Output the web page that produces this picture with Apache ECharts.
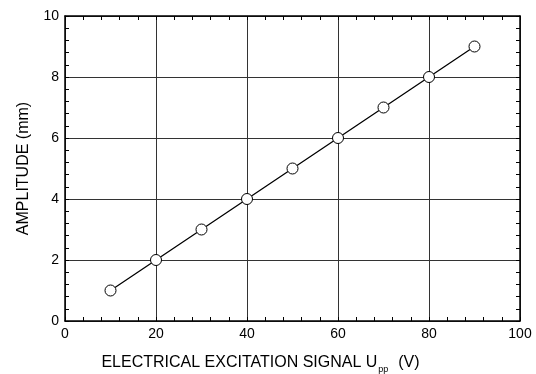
<!DOCTYPE html>
<html>
<head>
<meta charset="utf-8">
<script src="https://cdn.jsdelivr.net/npm/echarts@6/dist/echarts.min.js"></script>
<style>
html, body { margin: 0; padding: 0; background: #fff; }
#chart { width: 536px; height: 374px; }
</style>
</head>
<body>
<div id="chart"></div>
<script>
// data
var signalVolts = [10, 20, 30, 40, 50, 60, 70, 80, 90];
var amplitudeMm = [1, 2, 3, 4, 5, 6, 7, 8, 9];

var fontName = 'Liberation Sans, Arial, sans-serif';

var points = [];
for (var i = 0; i < signalVolts.length; i++) {
    points.push([signalVolts[i], amplitudeMm[i]]);
}

var myChart = echarts.init(document.getElementById('chart'));

// shared bits for the frame axes
var lineStyle = {color: '#000', width: 1.5};
var gridStyle = {color: '#333', width: 1};

var option = {
    animation: false,
    backgroundColor: '#fff',
    grid: {
        left: 65,
        right: 16,
        top: 16,
        bottom: 53,
        outerBoundsMode: 'none'
    },
    xAxis: [
        {
            type: 'value',
            min: 0,
            max: 100,
            interval: 20,
            name: 'ELECTRICAL EXCITATION SIGNAL U{sub|pp}  (V)',
            nameLocation: 'middle',
            nameGap: 30,
            nameTextStyle: {
                color: '#000',
                fontFamily: fontName,
                fontSize: 16,
                padding: [0, 64, 0, 0], // title sits a bit left of centre
                rich: {
                    sub: {fontSize: 9, fontFamily: fontName, color: '#000', padding: [14, 1, 0, 1]}
                }
            },
            axisLine: {show: true, onZero: false, lineStyle: lineStyle},
            axisTick: {show: true, inside: true, length: 4, lineStyle: {color: '#000'}},
            minorTick: {show: true, splitNumber: 5, length: 4, lineStyle: {color: '#000'}},
            axisLabel: {color: '#000', fontFamily: fontName, fontSize: 14, margin: 6},
            splitLine: {show: true, lineStyle: gridStyle}
        },
        {
            type: 'value',
            position: 'top',
            min: 0,
            max: 100,
            interval: 20,
            axisLine: {show: true, onZero: false, lineStyle: lineStyle},
            axisTick: {show: true, inside: true, length: 4, lineStyle: {color: '#000'}},
            minorTick: {show: true, splitNumber: 5, length: 4, lineStyle: {color: '#000'}},
            axisLabel: {show: false},
            splitLine: {show: false}
        }
    ],
    yAxis: [
        {
            type: 'value',
            min: 0,
            max: 10,
            interval: 2,
            name: 'AMPLITUDE (mm)',
            nameLocation: 'middle',
            nameGap: 33,
            nameTextStyle: {color: '#000', fontFamily: fontName, fontSize: 16},
            axisLine: {show: true, onZero: false, lineStyle: lineStyle},
            axisTick: {show: true, inside: true, length: 4, lineStyle: {color: '#000'}},
            minorTick: {show: true, splitNumber: 5, length: 4, lineStyle: {color: '#000'}},
            axisLabel: {color: '#000', fontFamily: fontName, fontSize: 14, margin: 6},
            splitLine: {show: true, lineStyle: gridStyle}
        },
        {
            type: 'value',
            position: 'right',
            min: 0,
            max: 10,
            interval: 2,
            axisLine: {show: true, onZero: false, lineStyle: lineStyle},
            axisTick: {show: true, inside: true, length: 4, lineStyle: {color: '#000'}},
            minorTick: {show: true, splitNumber: 5, length: 4, lineStyle: {color: '#000'}},
            axisLabel: {show: false},
            splitLine: {show: false}
        }
    ],
    series: [
        {
            type: 'line',
            data: points,
            symbol: 'circle',
            symbolSize: 11,
            itemStyle: {color: '#fff', borderColor: '#000', borderWidth: 1},
            lineStyle: {color: '#000', width: 1.3},
            z: 5
        }
    ]
};
myChart.setOption(option);
</script>
</body>
</html>
